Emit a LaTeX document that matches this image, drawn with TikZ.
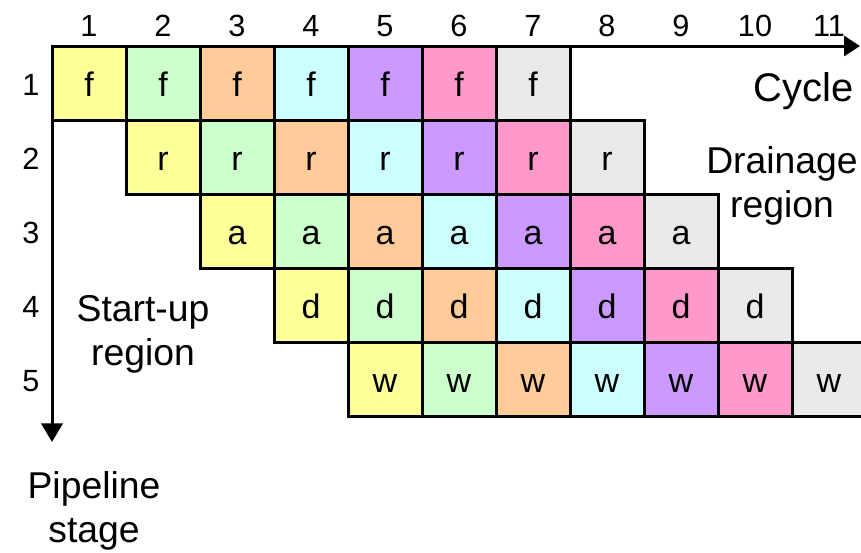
\documentclass[tikz,border=0pt]{standalone}
\usepackage{fontspec}
\setmainfont{Liberation Sans}
\usepackage{xcolor}
\usepackage{tikz}
\usetikzlibrary{arrows.meta}

\definecolor{instA}{HTML}{FFFF99}
\definecolor{instB}{HTML}{CCFFCC}
\definecolor{instC}{HTML}{FFCC99}
\definecolor{instD}{HTML}{CCFFFF}
\definecolor{instE}{HTML}{CC99FF}
\definecolor{instF}{HTML}{FF99CC}
\definecolor{instG}{HTML}{E9E9E9}

\begin{document}
\begin{tikzpicture}[x=0.75pt,y=-0.75pt,
    cell/.style={draw,line width=2.25pt,minimum size=55.5pt,inner sep=0pt,
      text height=20pt,text depth=0pt,font=\fontsize{25.5}{30}\selectfont},
    numlbl/.style={font=\fontsize{23}{27}\selectfont},
    axlbl/.style={align=center,font=\fontsize{28}{33}\selectfont}]
  \clip (0,0) rectangle (861,553);
  % pipeline cells, one row per stage
  \foreach \r/\op in {1/f,2/r,3/a,4/d,5/w}
    \foreach \k/\col in {0/instA,1/instB,2/instC,3/instD,4/instE,5/instF,6/instG}{
      \pgfmathtruncatemacro\c{\r+\k}
      \node[cell,fill=\col] (s\r c\c) at ({15+74*\c},{9+74*\r}) {\op};
    }
  % cycle numbers
  \foreach \c in {1,...,11}
    \node[numlbl] (cyc\c) at ({15+74*\c},26) {\c};
  % stage numbers
  \foreach \r in {1,...,5}
    \node[numlbl] (stg\r) at (31,{11+74*\r}) {\r};
  % axes
  \coordinate (orig) at (52,46);
  \coordinate (cycend) at (860,46);
  \coordinate (stgend) at (52,442);
  \draw[line width=2.25pt,-{Triangle[length=12pt,width=15pt]}] (orig) -- (cycend);
  \draw[line width=2.25pt,-{Triangle[length=14pt,width=16pt]}] (orig) -- (stgend);
  % region and axis labels
  \node[axlbl,anchor=east,font=\fontsize{30}{34}\selectfont] (cyclbl) at (858,91) {Cycle};
  \node[axlbl] (drainlbl) at (782,186) {Drainage\\region};
  \node[axlbl] (startlbl) at (143,334) {Start-up\\region};
  \node[axlbl] (stagelbl) at (94,511) {Pipeline\\stage};
\end{tikzpicture}
\end{document}
